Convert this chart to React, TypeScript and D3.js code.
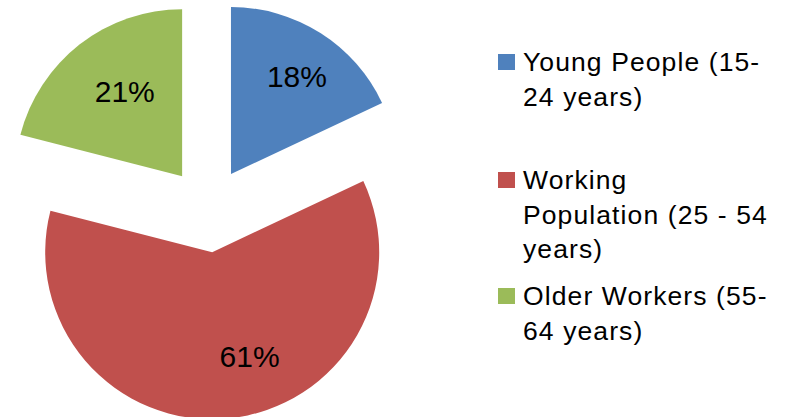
import { useEffect, useRef } from "react";
import * as d3 from "d3";

// chart data
const categories = ["Young People (15-24 years)", "Working Population (25 - 54 years)", "Older Workers (55-64 years)"];
const legendLines = [
  ["Young People (15-", "24 years)"],
  ["Working", "Population (25 - 54", "years)"],
  ["Older Workers (55-", "64 years)"],
];
const shares = [18, 61, 21];
const colors = ["#4F81BD", "#C0504D", "#9BBB59"];

// layout
const WIDTH = 788;
const HEIGHT = 417;
const CX = 208.2;
const CY = 209.9;
const RADIUS = 167;
const EXPLODE = 42.5;
const LABEL_R = 110;
const labelNudge = [
  [7, -5],
  [27, -6],
  [10, 2],
];
const legendX = 498;
const legendBaselines = [71, 189, 305];
const LINE_H = 34.5;

export default function App() {
  const svgRef = useRef<SVGSVGElement>(null);

  useEffect(() => {
    const svgEl = svgRef.current;
    if (!svgEl) return;
    const svg = d3.select(svgEl);
    svg.selectAll("*").remove();

    const pie = d3
      .pie<number>()
      .sort(null)
      .value((d) => d);
    const arcs = pie(shares);
    const arc = d3.arc<d3.PieArcDatum<number>>().innerRadius(0).outerRadius(RADIUS);
    const labelArc = d3.arc<d3.PieArcDatum<number>>().innerRadius(LABEL_R).outerRadius(LABEL_R);

    const offset = (d: d3.PieArcDatum<number>) => {
      const mid = (d.startAngle + d.endAngle) / 2;
      return [CX + EXPLODE * Math.sin(mid), CY - EXPLODE * Math.cos(mid)];
    };

    const slices = svg
      .append("g")
      .selectAll("g.slice")
      .data(arcs)
      .join("g")
      .attr("class", "slice")
      .attr("transform", (d) => {
        const [x, y] = offset(d);
        return `translate(${x},${y})`;
      });

    slices
      .append("path")
      .attr("d", arc)
      .attr("fill", (_d, i) => colors[i]);

    slices
      .append("text")
      .attr("x", (d, i) => labelArc.centroid(d)[0] + labelNudge[i][0])
      .attr("y", (d, i) => labelArc.centroid(d)[1] + labelNudge[i][1])
      .attr("dy", "0.36em")
      .attr("text-anchor", "middle")
      .attr("font-family", "'Liberation Sans', Arial, sans-serif")
      .attr("font-size", 30)
      .attr("fill", "#000")
      .text((d) => `${d.data}%`);

    const legend = svg
      .append("g")
      .selectAll("g.item")
      .data(categories)
      .join("g")
      .attr("class", "item");

    legend
      .append("rect")
      .attr("x", legendX)
      .attr("y", (_d, i) => legendBaselines[i] - 17)
      .attr("width", 17)
      .attr("height", 16)
      .attr("fill", (_d, i) => colors[i]);

    legend
      .append("text")
      .attr("font-family", "'Liberation Sans', Arial, sans-serif")
      .attr("font-size", 26.5)
      .attr("letter-spacing", 1.1)
      .attr("fill", "#000")
      .selectAll("tspan")
      .data((_d, i) => legendLines[i].map((line, j) => ({ line, y: legendBaselines[i] + j * LINE_H })))
      .join("tspan")
      .attr("x", legendX + 25)
      .attr("y", (d) => d.y)
      .text((d) => d.line);
  }, []);

  return (
    <svg
      ref={svgRef}
      width={WIDTH}
      height={HEIGHT}
      viewBox={`0 0 ${WIDTH} ${HEIGHT}`}
      style={{ position: "absolute", left: 0, top: 0, background: "#fff" }}
    />
  );
}
